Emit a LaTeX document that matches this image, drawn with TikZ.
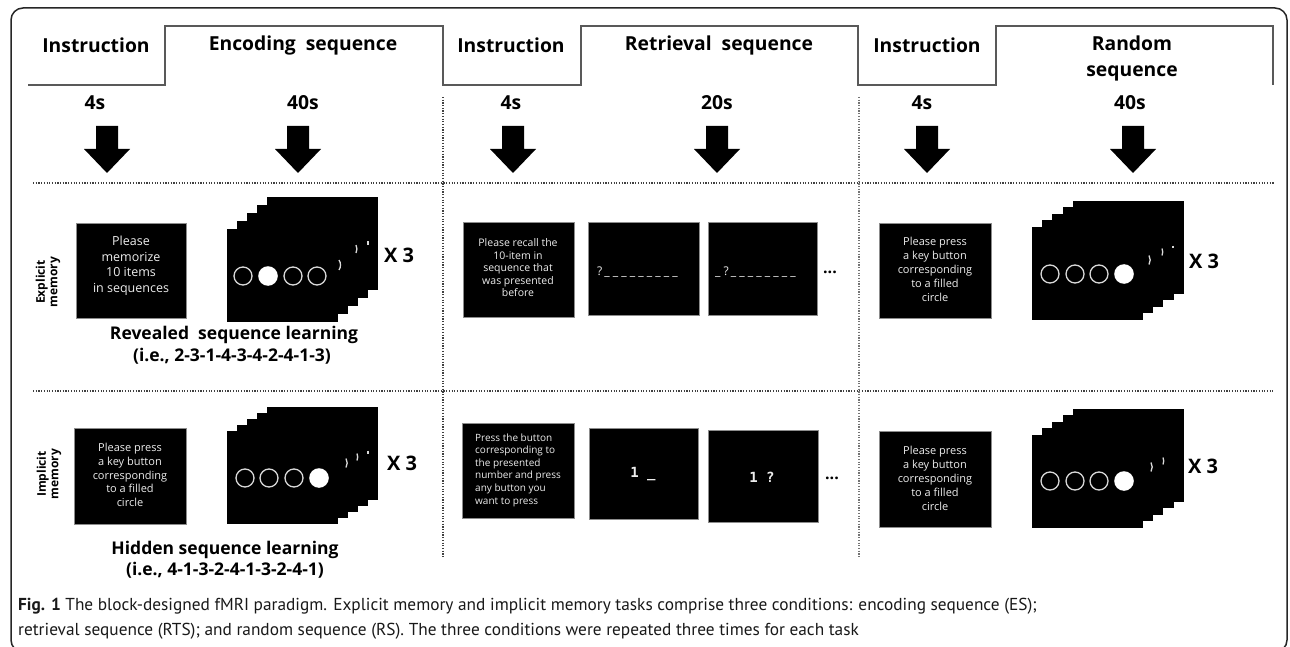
\documentclass[tikz,border=0pt]{standalone}
\usepackage{fontspec}
\setmainfont{Open Sans}
\newfontfamily\capfont{PT Sans}
\newfontfamily\monof{DejaVu Sans Mono}
\tikzset{
 wave/.style={draw=black!65, line width=1.5pt},
 sepline/.style={draw=black!75, line width=1.4pt, dash pattern=on 1.2pt off 1.5pt},
 frame/.style={draw=black!85, line width=1.5pt, rounded corners=12pt},
 head/.style={font=\fontsize{19.3}{26}\selectfont\bfseries, inner sep=0, align=center},
 dur/.style={font=\fontsize{19.3}{24}\selectfont\bfseries, inner sep=0},
 ibox/.style={fill=black, draw=black!45, line width=0.8pt, inner sep=0},
 itext/.style={text=white!93!black, align=center, inner sep=0},
 card/.style={fill=black, draw=black, line width=0.4pt},
 circline/.style={draw=white!85!black, line width=1.3pt},
 rep/.style={font=\fontsize{20}{24}\selectfont\bfseries, inner sep=0},
 seqlab/.style={font=\fontsize{17.5}{22}\selectfont\bfseries, inner sep=0},
 rowlab/.style={font=\fontsize{12}{12.5}\selectfont\bfseries, rotate=90, align=center, inner sep=0},
 capt/.style={font=\capfont\fontsize{17.3}{20}\selectfont, text=black!90, inner sep=0},
 downarr/.pic={\fill[black] (-11,0) -- (11,0) -- (11,23) -- (23,23) -- (0,47) -- (-23,23) -- (-11,23) -- cycle;},
}
\newcommand\cardstack[4]{%
 \foreach \k in {4,3,2,1,0} {\draw[card] ({#1+\k*#3},{#2+\k*#4}) rectangle ++(110,92);}}
\newcommand\peekarc[3]{\draw[circline] (#1,{#2-#3/2}) arc[start angle={-asin(#3/18)}, end angle={asin(#3/18)}, radius=9];}
\begin{document}
\begin{tikzpicture}[x=1pt,y=-1pt]
\useasboundingbox (0,0) rectangle (1290,647);
\clip (0,0) rectangle (1290,647);
\fill[white] (0,0) rectangle (1290,647);
\draw[frame] (11,8) rectangle (1287,652);

% header waveform
\draw[wave] (28,85) -| (165,26) -| (443,85) -| (581,26) -| (858,85) -| (996,26) -| (1273,85);
\node[head] (h1) at (96,45) {Instruction};
\node[head] (h2) at (303,45) {Encoding\ \ sequence};
\node[head] (h3) at (511,45) {Instruction};
\node[head] (h4) at (719,45) {Retrieval\ \ sequence};
\node[head] (h5) at (927,45) {Instruction};
\node[head] (h6) at (1132,58) {Random\\sequence};

% durations and arrows
\node[dur] (t1) at (95,103) {4s};
\node[dur] (t2) at (303,103) {40s};
\node[dur] (t3) at (511,103) {4s};
\node[dur] (t4) at (717,103) {20s};
\node[dur] (t5) at (922,103) {4s};
\node[dur] (t6) at (1130,103) {40s};
\pic at (107,126) {downarr};
\pic at (298,126) {downarr};
\pic at (513,126) {downarr};
\pic at (717,126) {downarr};
\pic at (927,126) {downarr};
\pic at (1133,126) {downarr};

% separators
\coordinate (s1a) at (33,183); \coordinate (s1b) at (1275,183);
\coordinate (s2a) at (33,391); \coordinate (s2b) at (1273,391);
\coordinate (v1a) at (443,97); \coordinate (v1b) at (443,557);
\coordinate (v2a) at (859,97); \coordinate (v2b) at (859,557);
\draw[sepline] (s1a) -- (s1b);
\draw[sepline] (s2a) -- (s2b);
\draw[sepline] (v1a) -- (v1b);
\draw[sepline, draw=black!55] (v2a) -- (v2b);

% row labels
\node[rowlab] (rl1) at (48,282) {Explicit\\memory};
\node[rowlab] (rl2) at (49,474) {Implicit\\memory};

% ---------- Row 1 ----------
\node[ibox, minimum width=110, minimum height=95] (b11) at (131,270.5) {};
\node[itext, font=\fontsize{12.5}{15.5}\selectfont] (x11) at (131,266) {Please\\memorize\\10 items\\in sequences};
\cardstack{227}{229}{10}{-8}
\foreach \cx in {243,293,317} {\draw[circline] (\cx,276) circle[radius=9];}
\fill[white] (268,276) circle[radius=9.8];
\peekarc{339}{265}{10}
\peekarc{356}{249}{8}
\peekarc{368}{243}{4}
\node[rep] (r11) at (399,255) {X 3};
\node[seqlab] (q11) at (234,335) {Revealed\ \ sequence learning};
\node[seqlab] (q12) at (232,356) {(i.e., 2-3-1-4-3-4-2-4-1-3)};

\node[ibox, minimum width=111, minimum height=95] (b12) at (518.5,269.5) {};
\node[itext, font=\fontsize{10.5}{12.5}\selectfont] (x12) at (518,268) {Please recall the\\10-item in\\sequence that\\was presented\\before};
\node[ibox, minimum width=111, minimum height=93] (c12) at (643.5,268.5) {};
\node[itext, anchor=west, font=\fontsize{12}{14}\selectfont] (y12) at (597,272) {?\,\_\ \_\ \_\ \_\ \_\ \_\ \_\ \_\ \_};
\node[ibox, minimum width=109, minimum height=93] (d12) at (762.5,268.5) {};
\node[itext, anchor=west, font=\fontsize{12}{14}\selectfont] (z12) at (715,272) {\_\ ?\,\_\ \_\ \_\ \_\ \_\ \_\ \_\ \_};
\node[font=\fontsize{16}{18}\selectfont\bfseries, inner sep=0] (e12) at (830,272) {...};

\node[ibox, minimum width=112, minimum height=95] (b13) at (935,270.5) {};
\node[itext, font=\fontsize{11}{14}\selectfont] (x13) at (935,269) {Please press\\a key button\\corresponding\\to a filled\\circle};
\cardstack{1032}{227}{10.25}{-6.5}
\foreach \cx in {1050,1075,1099} {\draw[circline] (\cx,274) circle[radius=9];}
\fill[white] (1124,274) circle[radius=9.8];
\peekarc{1149}{260}{9}
\peekarc{1162}{252}{7}
\peekarc{1173}{247}{3}
\node[rep] (r13) at (1204,261) {X 3};

% ---------- Row 2 ----------
\node[ibox, minimum width=112, minimum height=96] (b21) at (130,476) {};
\node[itext, font=\fontsize{11}{13.8}\selectfont] (x21) at (130,475) {Please press\\a key button\\corresponding\\to a filled\\circle};
\cardstack{227}{431}{10}{-6}
\foreach \cx in {245,269,294} {\draw[circline] (\cx,478) circle[radius=9];}
\fill[white] (319,478) circle[radius=9.8];
\peekarc{346}{463}{9}
\peekarc{357}{457}{7}
\peekarc{368}{452}{3}
\node[rep] (r21) at (402,463) {X 3};
\node[seqlab] (q21) at (225,550) {Hidden sequence learning};
\node[seqlab] (q22) at (225,570) {(i.e., 4-1-3-2-4-1-3-2-4-1)};

\node[ibox, minimum width=112, minimum height=95] (b22) at (518,470.5) {};
\node[itext, align=left, anchor=west, font=\fontsize{10}{12.6}\selectfont] (x22) at (475,470) {Press the button\\corresponding to\\the presented\\number and press\\any button you\\want to press};
\node[ibox, minimum width=109, minimum height=91] (c22) at (643.5,473.5) {};
\node[itext, font=\monof\fontsize{14}{16}\selectfont\bfseries] (y22) at (643,474) {1 \_};
\node[ibox, minimum width=110, minimum height=92] (d22) at (763,476) {};
\node[itext, font=\monof\fontsize{14}{16}\selectfont\bfseries] (z22) at (762,477) {1 ?};
\node[font=\fontsize{16}{18}\selectfont\bfseries, inner sep=0] (e22) at (832,478) {...};

\node[ibox, minimum width=112, minimum height=96] (b23) at (935,479) {};
\node[itext, font=\fontsize{11}{14}\selectfont] (x23) at (935,478) {Please press\\a key button\\corresponding\\to a filled\\circle};
\cardstack{1032}{435}{10.25}{-6.5}
\foreach \cx in {1050,1075,1099} {\draw[circline] (\cx,481) circle[radius=9];}
\fill[white] (1124,481) circle[radius=9.8];
\peekarc{1151}{467}{9}
\peekarc{1163}{461}{7}
\node[rep] (r23) at (1203,466) {X 3};

% caption
\node[capt, anchor=base west] (cap1) at (18,610) {\textbf{Fig. 1} The block-designed fMRI paradigm. Explicit memory and implicit memory tasks comprise three conditions: encoding sequence (ES);};
\node[capt, anchor=base west] (cap2) at (18,635) {retrieval sequence (RTS); and random sequence (RS). The three conditions were repeated three times for each task};
\end{tikzpicture}
\end{document}
